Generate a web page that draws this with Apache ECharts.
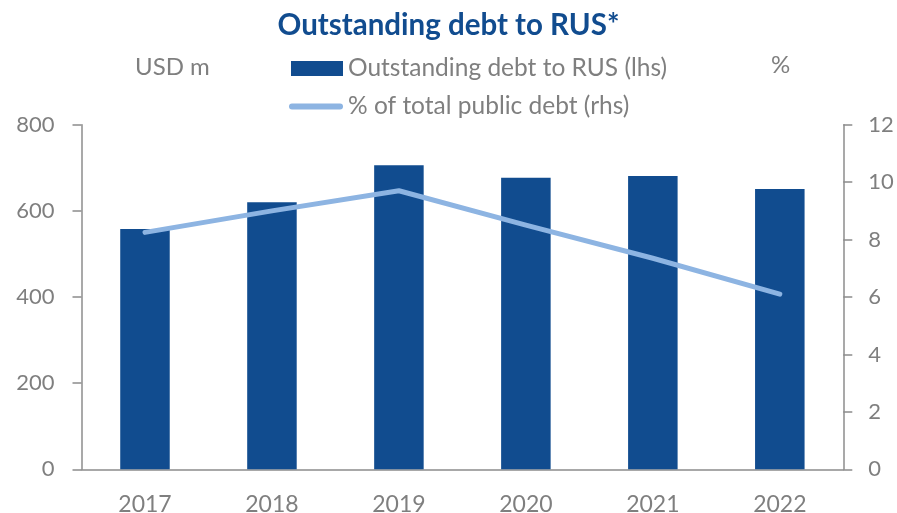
<!DOCTYPE html>
<html>
<head>
<meta charset="utf-8">
<script src="https://cdn.jsdelivr.net/npm/echarts@6/dist/echarts.min.js"></script>
<style>
  html, body { margin: 0; padding: 0; background: #ffffff; }
  #chart { width: 897px; height: 513px; }
</style>
</head>
<body>
<div id="chart"></div>
<script>
// Outstanding debt to Russia, USD m (left axis) and share of total public debt, % (right axis)
const years = ['2017', '2018', '2019', '2020', '2021', '2022'];
const debtUsdM = [558, 620, 706, 677, 681, 651];
const shareOfPublicDebt = [8.25, 9.0, 9.7, 8.5, 7.35, 6.1];
const leftTicks = { min: 0, max: 800, interval: 200 };
const rightTicks = { min: 0, max: 12, interval: 2 };

const barName = 'Outstanding debt to RUS (lhs)';
const lineName = '% of total public debt (rhs)';

const FONT = 'Lato';
const GREY = '#7f7f7f';
const AXIS = '#8c8c8c';
const DARK_BLUE = '#114c8f';
const LIGHT_BLUE = '#8db4e2';

// capsule-shaped legend key for the line series (54 x 6)
const CAPSULE = 'path://M3,0 L51,0 A3,3 0 0 1 51,6 L3,6 A3,3 0 0 1 3,0 Z';

const chart = echarts.init(document.getElementById('chart'), null, { renderer: 'canvas' });

const legendText = { color: GREY, fontFamily: FONT, fontSize: 24.5 };

chart.setOption({
  animation: false,
  textStyle: { fontFamily: FONT },
  title: {
    text: 'Outstanding debt to RUS*',
    left: 'center',
    top: 5,
    textStyle: { color: DARK_BLUE, fontFamily: FONT, fontWeight: 'bold', fontSize: 29.5 }
  },
  graphic: [
    { type: 'text', left: 135, top: 55, style: { text: 'USD m', fill: GREY, font: '24px ' + FONT } },
    { type: 'text', left: 771, top: 53, style: { text: '%', fill: GREY, font: '24px ' + FONT } }
  ],
  legend: [
    {
      data: [{ name: barName, icon: 'rect' }],
      left: 291, top: 56, padding: 0,
      itemWidth: 52, itemHeight: 15, itemGap: 0,
      textStyle: legendText
    },
    {
      data: [{ name: lineName, icon: CAPSULE }],
      left: 289, top: 94, padding: 0,
      itemWidth: 54, itemHeight: 6, itemGap: 0,
      textStyle: legendText
    }
  ],
  grid: {
    left: 81.5, right: 53.7, top: 124.7, bottom: 43.7,
    containLabel: false,
    outerBoundsMode: 'none'
  },
  xAxis: {
    type: 'category',
    data: years,
    axisLine: { lineStyle: { color: AXIS, width: 1.5 } },
    axisTick: { show: false },
    axisLabel: { color: GREY, fontFamily: FONT, fontSize: 23, margin: 24 }
  },
  yAxis: [
    {
      type: 'value',
      min: leftTicks.min, max: leftTicks.max, interval: leftTicks.interval,
      position: 'left',
      axisLine: { show: true, lineStyle: { color: AXIS, width: 1.5 } },
      axisTick: { show: true, length: 9, lineStyle: { color: AXIS, width: 1.5 } },
      splitLine: { show: false },
      axisLabel: { color: GREY, fontFamily: FONT, fontSize: 22, margin: 27 }
    },
    {
      type: 'value',
      min: rightTicks.min, max: rightTicks.max, interval: rightTicks.interval,
      position: 'right',
      axisLine: { show: true, lineStyle: { color: AXIS, width: 1.5 } },
      axisTick: { show: true, length: 9, lineStyle: { color: AXIS, width: 1.5 } },
      splitLine: { show: false },
      axisLabel: { color: GREY, fontFamily: FONT, fontSize: 22, margin: 25 }
    }
  ],
  series: [
    {
      name: barName,
      type: 'bar',
      yAxisIndex: 0,
      data: debtUsdM,
      barWidth: '39%',
      itemStyle: { color: DARK_BLUE }
    },
    {
      name: lineName,
      type: 'line',
      yAxisIndex: 1,
      data: shareOfPublicDebt,
      symbol: 'none',
      z: 5,
      lineStyle: { color: LIGHT_BLUE, width: 5, cap: 'round', join: 'round' },
      itemStyle: { color: LIGHT_BLUE }
    }
  ]
});
</script>
</body>
</html>
